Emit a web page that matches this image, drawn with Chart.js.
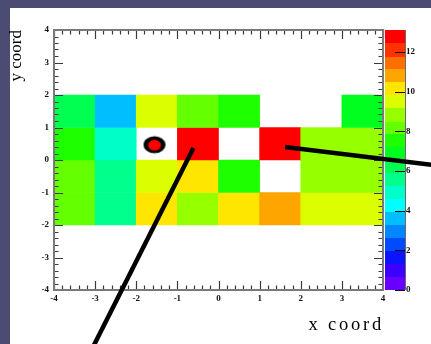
<!DOCTYPE html>
<html>
<head>
<meta charset="utf-8">
<style>
  html, body { margin: 0; padding: 0; background: #4b4b74; }
  #wrap { position: absolute; left: 0; top: 0; width: 431px; height: 344px; }
</style>
<script src="https://cdn.jsdelivr.net/npm/chart.js@4/dist/chart.umd.min.js"></script>
</head>
<body>
<div id="wrap"><canvas id="c" width="431" height="344"></canvas></div>
<script>
// Bin centres along x and the y range each row of cells covers
const xBinCenters = [-3.5, -2.5, -1.5, -0.5, 0.5, 1.5, 2.5, 3.5];
const rowRanges = [[1, 2], [0, 1], [-1, 0], [-2, -1]];

// Cell contents per row (null = empty bin, left blank)
const countsY1to2  = [6.2, 3.6, 9.5, 8.2, 7.5, null, null, 6.9];
const countsY0to1  = [7.5, 4.9, null, 13.1, null, 12.8, 8.8, 8.8];
const countsYm1to0 = [8.2, 5.6, 9.5, 10.2, 7.5, null, 8.8, 8.8];
const countsYm2tom1 = [8.2, 5.6, 10.2, 8.8, 10.2, 10.8, 9.5, 9.5];
const rows = [countsY1to2, countsY0to1, countsYm1to0, countsYm2tom1];

// Axis tick values
const xTicks = [-4, -3, -2, -1, 0, 1, 2, 3, 4];
const yTicks = [-4, -3, -2, -1, 0, 1, 2, 3, 4];
const zTicks = [0, 2, 4, 6, 8, 10, 12];

// Highlighted bin marker and the two pointer strokes (axis units)
const markerPoint = [{ x: -1.555, y: 0.47 }];
const pointerA = [{ x: -0.61, y: 0.37 }, { x: -3.09, y: -5.85 }];
const pointerB = [{ x: 1.62, y: 0.40 }, { x: 5.38, y: -0.18 }];

// 20-step rainbow palette, low to high
const palette = [
  'rgb(105,0,255)', 'rgb(60,0,255)', 'rgb(10,20,255)', 'rgb(0,75,255)', 'rgb(0,135,255)',
  'rgb(0,190,255)', 'rgb(0,255,255)', 'rgb(0,255,200)', 'rgb(0,255,140)', 'rgb(0,255,80)',
  'rgb(0,255,30)', 'rgb(30,255,0)', 'rgb(100,255,0)', 'rgb(150,255,0)', 'rgb(220,255,0)',
  'rgb(255,230,0)', 'rgb(255,165,0)', 'rgb(255,110,0)', 'rgb(255,50,0)', 'rgb(255,0,0)'
];

const zMax = Math.max(...rows.flat().filter(v => v !== null));

function colorFor(v) {
  const k = Math.min(palette.length - 1, Math.floor(v / zMax * palette.length));
  return palette[Math.max(0, k)];
}

const SERIF = "'Liberation Serif', 'DejaVu Serif', serif";

const rowDatasets = rows.map((vals, r) => ({
  type: 'bar',
  order: 2,
  data: xBinCenters
    .map((x, i) => (vals[i] === null ? null : { x: x, y: rowRanges[r], v: vals[i] }))
    .filter(d => d !== null),
  backgroundColor: ctx => (ctx.raw ? colorFor(ctx.raw.v) : 'transparent'),
  borderWidth: 0,
  barPercentage: 1,
  categoryPercentage: 1,
  grouped: false
}));

function ringMarker() {
  const c = document.createElement('canvas');
  c.width = 24; c.height = 20;
  const g = c.getContext('2d');
  g.fillStyle = '#000';
  g.beginPath(); g.ellipse(12, 10, 11, 8.6, 0, 0, Math.PI * 2); g.fill();
  g.fillStyle = '#ff0000';
  g.beginPath(); g.ellipse(12, 10.4, 6.4, 5.3, 0, 0, Math.PI * 2); g.fill();
  return c;
}

const pointerStyle = {
  type: 'line', order: 1, borderColor: '#000', borderWidth: 4.5,
  pointRadius: 0, tension: 0, clip: false, borderCapStyle: 'butt', fill: false
};

function drawFrame(chart) {
  const { ctx, chartArea: a, scales: { x, y } } = chart;
  ctx.save();
  ctx.strokeStyle = '#3a3a3a';
  ctx.lineWidth = 1.2;
  ctx.beginPath();
  for (let i = -20; i <= 20; i++) {
    const v = i / 5;
    const len = i % 5 === 0 ? 9 : 4.5;
    const px = Math.round(x.getPixelForValue(v)) + 0.5;
    ctx.moveTo(px, a.bottom); ctx.lineTo(px, a.bottom - len);
    ctx.moveTo(px, a.top); ctx.lineTo(px, a.top + len);
    const py = Math.round(y.getPixelForValue(v)) + 0.5;
    ctx.moveTo(a.left, py); ctx.lineTo(a.left + len, py);
    ctx.moveTo(a.right, py); ctx.lineTo(a.right - len, py);
  }
  ctx.stroke();
  ctx.strokeStyle = '#7a7a7a';
  ctx.lineWidth = 2;
  ctx.strokeRect(a.left, a.top, a.right - a.left, a.bottom - a.top);
  ctx.restore();
}

const histPlugin = {
  id: 'histFrame',
  beforeDraw(chart) {
    const { ctx, width, height } = chart;
    ctx.save();
    ctx.fillStyle = '#4b4b74';
    ctx.fillRect(0, 0, width, height);
    ctx.fillStyle = '#ffffff';
    ctx.fillRect(10, 8, width - 10, height - 8);
    ctx.restore();
  },
  beforeDatasetsDraw(chart) {
    chart.$frameDone = false;
    const { ctx, scales: { z } } = chart;
    const x0 = z.left + 2, x1 = z.left + 22;
    const n = palette.length;
    ctx.save();
    for (let k = 0; k < n; k++) {
      const yTop = z.getPixelForValue((k + 1) * zMax / n);
      const yBot = z.getPixelForValue(k * zMax / n);
      ctx.fillStyle = palette[k];
      ctx.fillRect(x0, Math.floor(yTop), x1 - x0, Math.ceil(yBot) - Math.floor(yTop));
    }
    ctx.strokeStyle = '#6a6a6a';
    ctx.lineWidth = 1;
    ctx.beginPath();
    ctx.moveTo(x1 + 0.5, z.top); ctx.lineTo(x1 + 0.5, z.bottom);
    ctx.stroke();
    ctx.strokeStyle = '#000';
    ctx.beginPath();
    zTicks.forEach(v => {
      const py = Math.round(z.getPixelForValue(v)) + 0.5;
      ctx.moveTo(x1 - 10, py); ctx.lineTo(x1, py);
    });
    ctx.stroke();
    ctx.restore();
  },
  beforeDatasetDraw(chart, args) {
    if (!chart.$frameDone && args.meta.type !== 'bar') {
      drawFrame(chart);
      chart.$frameDone = true;
    }
  },
  afterDatasetsDraw(chart) {
    if (!chart.$frameDone) { drawFrame(chart); chart.$frameDone = true; }
  },
  afterDraw(chart) {
    const { ctx, chartArea: a } = chart;
    ctx.save();
    ctx.fillStyle = '#000';
    // y axis title, rotated, flush with the top of the frame
    ctx.font = '17px ' + SERIF;
    ctx.translate(20.5, a.top);
    ctx.rotate(-Math.PI / 2);
    ctx.textAlign = 'right';
    ctx.textBaseline = 'alphabetic';
    ctx.fillText('y coord', 0, 0);
    ctx.restore();
    ctx.save();
    ctx.fillStyle = '#000';
    ctx.font = '18.5px ' + SERIF;
    if ('letterSpacing' in ctx) ctx.letterSpacing = '2.8px';
    ctx.textAlign = 'right';
    ctx.textBaseline = 'alphabetic';
    ctx.fillText('x coord', a.right + 1, 330);
    ctx.restore();
  }
};

const tickFont = { family: SERIF, size: 9, weight: 'bold' };

new Chart(document.getElementById('c'), {
  type: 'bar',
  data: {
    datasets: [
      { ...pointerStyle, order: 0, type: 'scatter', data: markerPoint,
        pointStyle: ringMarker(), pointRadius: 10, borderWidth: 0 },
      { ...pointerStyle, data: pointerA },
      { ...pointerStyle, data: pointerB },
      ...rowDatasets
    ]
  },
  options: {
    responsive: false,
    animation: false,
    events: [],
    layout: { padding: { top: 30, left: 0, right: 0, bottom: 0 } },
    plugins: { legend: { display: false }, tooltip: { enabled: false } },
    scales: {
      x: {
        type: 'linear', position: 'bottom', min: -4, max: 4, offset: false,
        afterBuildTicks: s => { s.ticks = xTicks.map(v => ({ value: v })); },
        afterFit: s => { s.height = 54; },
        grid: { display: false, drawTicks: false, offset: false },
        border: { display: false },
        ticks: { font: tickFont, color: '#111', padding: 3, maxRotation: 0, autoSkip: false }
      },
      y: {
        type: 'linear', position: 'left', min: -4, max: 4,
        afterBuildTicks: s => { s.ticks = yTicks.map(v => ({ value: v })); },
        afterFit: s => { s.width = 54; },
        grid: { display: false, drawTicks: false },
        border: { display: false },
        ticks: { font: tickFont, color: '#111', padding: 5, autoSkip: false }
      },
      z: {
        type: 'linear', position: 'right', min: 0, max: zMax,
        afterBuildTicks: s => { s.ticks = zTicks.map(v => ({ value: v })); },
        afterFit: s => { s.width = 48; },
        grid: { display: false, drawTicks: false },
        border: { display: false },
        ticks: { font: tickFont, color: '#111', padding: 23, autoSkip: false }
      }
    }
  },
  plugins: [histPlugin]
});
</script>
</body>
</html>
